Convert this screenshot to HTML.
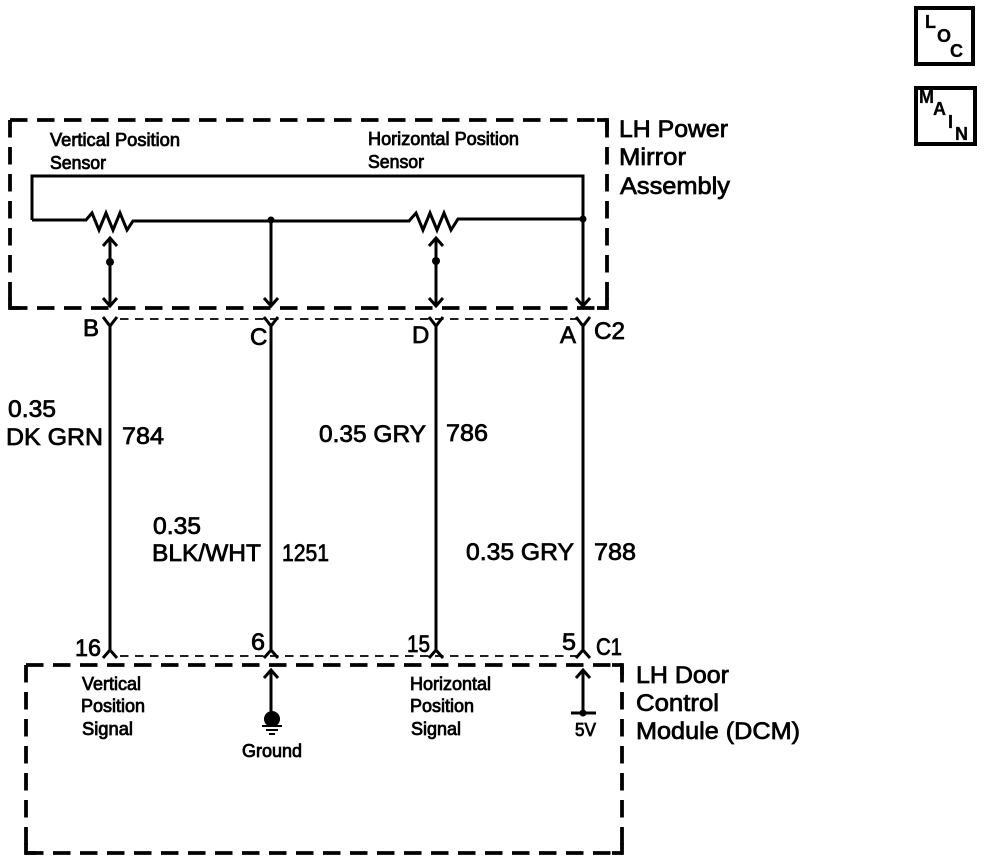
<!DOCTYPE html>
<html><head><meta charset="utf-8"><style>
html,body{margin:0;padding:0;background:#fff;width:992px;height:862px;overflow:hidden}
svg{display:block}
text{font-family:"Liberation Sans",sans-serif;fill:#000;stroke:#000}
.s{font-size:18px;stroke-width:.8px}.m{font-size:24px;stroke-width:.75px}
.b{font-weight:bold;font-size:18px;stroke-width:.3px}
</style></head><body>
<svg width="992" height="862" viewBox="0 0 992 862" xmlns="http://www.w3.org/2000/svg">
<g fill="none" stroke="#000">
<!-- module boxes -->
<g stroke-width="3.800" stroke-dasharray="17.500 9.500">
<path d="M10 120H607"/><path d="M607 120V308"/><path d="M10 120V308"/><path d="M10 308H607"/>
<path d="M26 665H622"/><path d="M622 665V853"/><path d="M26 665V853"/><path d="M26 853H622"/>
</g>
<!-- box corners -->
<g stroke-width="3.800">
<path d="M597 120H607V130"/><path d="M597 308H607V298"/><path d="M10 298V308H20"/>
<path d="M612 665H622V675"/><path d="M612 853H622V843"/><path d="M26 843V853H36"/>
</g>
<!-- connector dashes -->
<path d="M120 319H577" stroke-width="1.800" stroke-dasharray="8.500 6.500"/>
<path d="M120 656H577" stroke-width="1.800" stroke-dasharray="8.500 6.500"/>
<!-- sensor circuit -->
<g stroke-width="3">
<path d="M32 220V176H583V304"/>
<path d="M32 220H86L92 213L99 230L106 213L113 230L120 213L127 230L133 221H409L416 213L423 230L430 213L437 230L444 213L451 230L458 219H583"/>
<path d="M271 220V304"/>
<path d="M110 239V305"/><path d="M436 239V305"/>
<!-- arrows -->
<path d="M103 246L110 238L117 246"/><path d="M429 246L436 238L443 246"/>
<path d="M103 298L110 306L117 298"/><path d="M264 298L271 306L278 298"/><path d="M429 298L436 306L443 298"/><path d="M576 298L583 306L590 298"/>
<!-- wires -->
<path d="M110 326V650"/><path d="M271 326V650"/><path d="M436 326V650"/><path d="M583 326V650"/>
<!-- C2 forks -->
<path d="M103 317L110 326L117 317"/><path d="M264 317L271 326L278 317"/><path d="M429 317L436 326L443 317"/><path d="M576 317L583 326L590 317"/>
<!-- C1 forks -->
<path d="M103 658L110 650L117 658"/><path d="M264 658L271 650L278 658"/><path d="M429 658L436 650L443 658"/><path d="M576 658L583 650L590 658"/>
<!-- DCM internals -->
<path d="M271 670V715"/><path d="M264 678L271 670L278 678"/>
<path d="M583 670V713"/><path d="M576 678L583 670L590 678"/>
<path d="M571 713H596"/>
</g>
<path d="M262 726H282M266 730H278M269 734H275" stroke-width="2"/>
<!-- LOC / MAIN boxes -->
<rect x="916" y="8" width="57" height="56" stroke-width="4"/>
<rect x="916" y="88" width="59" height="56" stroke-width="4"/>
</g>
<g fill="#000">
<circle cx="271" cy="220" r="3.500"/><circle cx="583" cy="219" r="3.500"/>
<circle cx="110" cy="262" r="4"/><circle cx="436" cy="261" r="4"/>
<circle cx="272" cy="719" r="8"/><circle cx="583" cy="713" r="3.500"/>
</g>
<text class="s" x="50" y="146" textLength="130" lengthAdjust="spacingAndGlyphs">Vertical Position</text>
<text class="s" x="50" y="169" textLength="56" lengthAdjust="spacingAndGlyphs">Sensor</text>
<text class="s" x="368" y="145" textLength="151" lengthAdjust="spacingAndGlyphs">Horizontal Position</text>
<text class="s" x="368" y="168" textLength="56" lengthAdjust="spacingAndGlyphs">Sensor</text>
<text class="m" x="619" y="137" textLength="109" lengthAdjust="spacingAndGlyphs">LH Power</text>
<text class="m" x="619" y="165" textLength="67" lengthAdjust="spacingAndGlyphs">Mirror</text>
<text class="m" x="620" y="194" textLength="110" lengthAdjust="spacingAndGlyphs">Assembly</text>
<text class="m" x="83" y="336">B</text>
<text class="m" x="250" y="345">C</text>
<text class="m" x="412" y="343">D</text>
<text class="m" x="560" y="343">A</text>
<text class="m" x="594" y="339" textLength="31" lengthAdjust="spacingAndGlyphs">C2</text>
<text class="m" x="8" y="417" textLength="48" lengthAdjust="spacingAndGlyphs">0.35</text>
<text class="m" x="6" y="445" textLength="97" lengthAdjust="spacingAndGlyphs">DK GRN</text>
<text class="m" x="122" y="444" textLength="42" lengthAdjust="spacingAndGlyphs">784</text>
<text class="m" x="153" y="534" textLength="48" lengthAdjust="spacingAndGlyphs">0.35</text>
<text class="m" x="152" y="561" textLength="109" lengthAdjust="spacingAndGlyphs">BLK/WHT</text>
<text class="m" x="282" y="561" textLength="47" lengthAdjust="spacingAndGlyphs">1251</text>
<text class="m" x="319" y="442" textLength="107" lengthAdjust="spacingAndGlyphs">0.35 GRY</text>
<text class="m" x="446" y="441" textLength="42" lengthAdjust="spacingAndGlyphs">786</text>
<text class="m" x="466" y="560" textLength="108" lengthAdjust="spacingAndGlyphs">0.35 GRY</text>
<text class="m" x="594" y="560" textLength="42" lengthAdjust="spacingAndGlyphs">788</text>
<text class="m" x="75" y="656" textLength="26" lengthAdjust="spacingAndGlyphs">16</text>
<text class="m" x="251" y="650" textLength="14" lengthAdjust="spacingAndGlyphs">6</text>
<text class="m" x="407" y="652" textLength="23" lengthAdjust="spacingAndGlyphs">15</text>
<text class="m" x="562" y="650" textLength="14" lengthAdjust="spacingAndGlyphs">5</text>
<text class="m" x="596" y="655" textLength="26" lengthAdjust="spacingAndGlyphs">C1</text>
<text class="s" x="82" y="690" textLength="59" lengthAdjust="spacingAndGlyphs">Vertical</text>
<text class="s" x="81" y="712" textLength="64" lengthAdjust="spacingAndGlyphs">Position</text>
<text class="s" x="82" y="735" textLength="51" lengthAdjust="spacingAndGlyphs">Signal</text>
<text class="s" x="242" y="757" textLength="60" lengthAdjust="spacingAndGlyphs">Ground</text>
<text class="s" x="410" y="690" textLength="81" lengthAdjust="spacingAndGlyphs">Horizontal</text>
<text class="s" x="410" y="712" textLength="64" lengthAdjust="spacingAndGlyphs">Position</text>
<text class="s" x="411" y="735" textLength="50" lengthAdjust="spacingAndGlyphs">Signal</text>
<text class="s" x="575" y="736" textLength="21" lengthAdjust="spacingAndGlyphs">5V</text>
<text class="m" x="636" y="683" textLength="93" lengthAdjust="spacingAndGlyphs">LH Door</text>
<text class="m" x="636" y="711" textLength="83" lengthAdjust="spacingAndGlyphs">Control</text>
<text class="m" x="636" y="739" textLength="164" lengthAdjust="spacingAndGlyphs">Module (DCM)</text>
<text class="b" x="925" y="28">L</text>
<text class="b" x="937" y="42">O</text>
<text class="b" x="950" y="57">C</text>
<text class="b" x="919" y="103">M</text>
<text class="b" x="933" y="115">A</text>
<text class="b" x="948" y="128">I</text>
<text class="b" x="955" y="140">N</text>
</svg>
</body></html>
